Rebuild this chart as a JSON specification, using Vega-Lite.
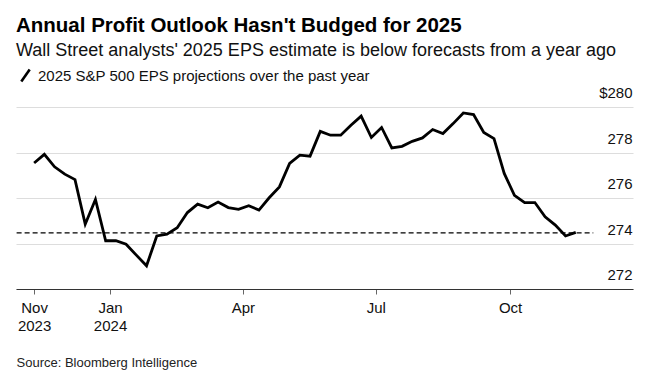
{
  "$schema": "https://vega.github.io/schema/vega-lite/v6.json",
  "width": 617,
  "height": 182,
  "autosize": "none",
  "padding": {"left": 16, "top": 107, "right": 33, "bottom": 93},
  "background": "white",
  "config": {
    "view": {"stroke": null},
    "font": "Liberation Sans"
  },
  "title": {
    "text": "Annual Profit Outlook Hasn't Budged for 2025",
    "subtitle": "Wall Street analysts' 2025 EPS estimate is below forecasts from a year ago",
    "anchor": "start",
    "frame": "group",
    "font": "Liberation Sans",
    "fontSize": 20.5,
    "fontWeight": "bold",
    "color": "#000000",
    "subtitleFont": "Liberation Sans",
    "subtitleFontSize": 18,
    "subtitleColor": "#111111",
    "subtitlePadding": 6,
    "offset": 8
  },
  "datasets": {
    "eps": [
      {"date": "2023-11-10", "eps": 277.54},
      {"date": "2023-11-17", "eps": 277.92},
      {"date": "2023-11-24", "eps": 277.37},
      {"date": "2023-12-01", "eps": 277.05},
      {"date": "2023-12-08", "eps": 276.81},
      {"date": "2023-12-15", "eps": 274.85},
      {"date": "2023-12-22", "eps": 275.94},
      {"date": "2023-12-29", "eps": 274.12},
      {"date": "2024-01-05", "eps": 274.12},
      {"date": "2024-01-12", "eps": 273.97},
      {"date": "2024-01-19", "eps": 273.49},
      {"date": "2024-01-26", "eps": 273.02},
      {"date": "2024-02-02", "eps": 274.33},
      {"date": "2024-02-09", "eps": 274.41},
      {"date": "2024-02-16", "eps": 274.69},
      {"date": "2024-02-23", "eps": 275.36},
      {"date": "2024-03-01", "eps": 275.73},
      {"date": "2024-03-08", "eps": 275.57},
      {"date": "2024-03-15", "eps": 275.82},
      {"date": "2024-03-22", "eps": 275.58},
      {"date": "2024-03-29", "eps": 275.50},
      {"date": "2024-04-05", "eps": 275.66},
      {"date": "2024-04-12", "eps": 275.47},
      {"date": "2024-04-19", "eps": 276.01},
      {"date": "2024-04-26", "eps": 276.49},
      {"date": "2024-05-03", "eps": 277.52},
      {"date": "2024-05-10", "eps": 277.88},
      {"date": "2024-05-17", "eps": 277.84},
      {"date": "2024-05-24", "eps": 278.93},
      {"date": "2024-05-31", "eps": 278.76},
      {"date": "2024-06-07", "eps": 278.76},
      {"date": "2024-06-14", "eps": 279.20},
      {"date": "2024-06-21", "eps": 279.60},
      {"date": "2024-06-28", "eps": 278.66},
      {"date": "2024-07-05", "eps": 279.10},
      {"date": "2024-07-12", "eps": 278.20},
      {"date": "2024-07-19", "eps": 278.27},
      {"date": "2024-07-26", "eps": 278.49},
      {"date": "2024-08-02", "eps": 278.64},
      {"date": "2024-08-09", "eps": 279.01},
      {"date": "2024-08-16", "eps": 278.83},
      {"date": "2024-08-23", "eps": 279.27},
      {"date": "2024-08-30", "eps": 279.74},
      {"date": "2024-09-06", "eps": 279.67},
      {"date": "2024-09-13", "eps": 278.88},
      {"date": "2024-09-20", "eps": 278.61},
      {"date": "2024-09-27", "eps": 277.08},
      {"date": "2024-10-04", "eps": 276.12},
      {"date": "2024-10-11", "eps": 275.80},
      {"date": "2024-10-18", "eps": 275.80},
      {"date": "2024-10-25", "eps": 275.17},
      {"date": "2024-11-01", "eps": 274.81},
      {"date": "2024-11-08", "eps": 274.33},
      {"date": "2024-11-15", "eps": 274.49}
    ],
    "ref": [
      {"start": "2023-10-29", "end": "2024-11-27", "level": 274.47}
    ]
  },
  "layer": [
    {
      "data": {"name": "ref"},
      "mark": {"type": "rule", "color": "#000000", "strokeWidth": 1.3, "strokeDash": [5, 3]},
      "encoding": {
        "x": {"field": "start", "type": "temporal"},
        "x2": {"field": "end"},
        "y": {"field": "level", "type": "quantitative"}
      }
    },
    {
      "data": {"name": "eps"},
      "transform": [{"calculate": "'2025 S&P 500 EPS projections over the past year'", "as": "series"}],
      "mark": {"type": "line", "strokeWidth": 2.8, "strokeJoin": "miter"},
      "encoding": {
        "x": {
          "field": "date",
          "type": "temporal",
          "scale": {
            "type": "utc",
            "domain": [
              {"year": 2023, "month": 10, "date": 28, "hours": 14, "utc": true},
              {"year": 2024, "month": 12, "date": 24, "hours": 5, "utc": true}
            ]
          },
          "axis": {
            "values": [
              {"year": 2023, "month": 11, "date": 10, "utc": true},
              {"year": 2024, "month": 1, "date": 1, "utc": true},
              {"year": 2024, "month": 4, "date": 1, "utc": true},
              {"year": 2024, "month": 7, "date": 1, "utc": true},
              {"year": 2024, "month": 10, "date": 1, "utc": true}
            ],
            "labelExpr": "utcmonth(datum.value) == 10 ? ['Nov', '2023'] : utcmonth(datum.value) == 0 ? ['Jan', '2024'] : utcFormat(datum.value, '%b')",
            "labelFontSize": 15,
            "labelColor": "#111111",
            "labelPadding": 6,
            "labelLineHeight": 18,
            "labelFlush": false,
            "labelOverlap": false,
            "labelBaseline": "top",
            "domainColor": "#333333",
            "domainWidth": 1,
            "tickColor": "#666666",
            "tickSize": 5,
            "grid": false,
            "title": "Source: Bloomberg Intelligence",
            "titleFontSize": 13,
            "titleFontWeight": "normal",
            "titleColor": "#222222",
            "titleAlign": "left",
            "titleAnchor": "start",
            "titleBaseline": "alphabetic",
            "titleX": 0,
            "titleY": 77
          }
        },
        "y": {
          "field": "eps",
          "type": "quantitative",
          "scale": {"domain": [272, 280], "zero": false, "nice": false},
          "axis": {
            "orient": "right",
            "values": [272, 274, 276, 278, 280],
            "labelExpr": "datum.value == 280 ? '$280' : datum.label",
            "labelFontSize": 15,
            "labelColor": "#111111",
            "labelAlign": "right",
            "labelBaseline": "alphabetic",
            "labelOffset": -9.5,
            "labelPadding": -1,
            "labelFlush": false,
            "labelBound": false,
            "ticks": false,
            "tickSize": 0,
            "domain": false,
            "grid": true,
            "gridColor": "#dddddd",
            "gridWidth": 1.2,
            "title": null
          }
        },
        "color": {
          "field": "series",
          "type": "nominal",
          "scale": {"range": ["#000000"]},
          "legend": {
            "orient": "none",
            "legendX": 2,
            "legendY": -39,
            "title": null,
            "padding": 0,
            "symbolType": "M-0.7,1L0.7,-1",
            "symbolSize": 144,
            "symbolStrokeWidth": 2.6,
            "symbolStrokeColor": "#000000",
            "symbolFillColor": "transparent",
            "labelFontSize": 15,
            "labelColor": "#111111",
            "labelOffset": 5,
            "labelLimit": 500
          }
        }
      }
    }
  ]
}
